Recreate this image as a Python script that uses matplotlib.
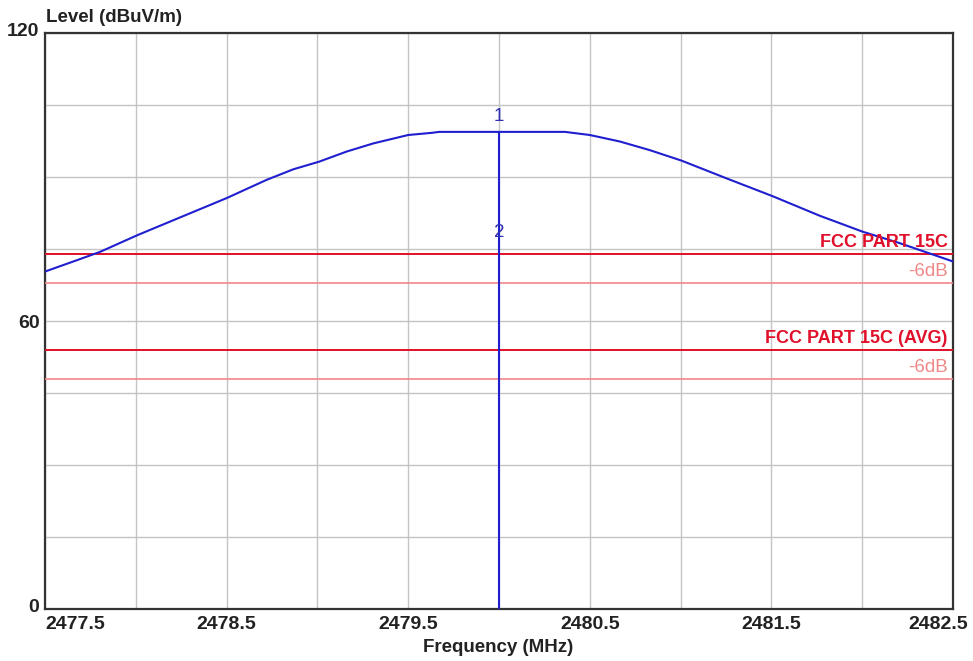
import numpy as np
import matplotlib
matplotlib.use('Agg')
import matplotlib.pyplot as plt
import matplotlib.transforms as mtransforms

#-----------------------------------------------------------------------
# data
freq = [2477.5, 2477.656, 2477.803, 2478.01, 2478.207, 2478.5, 2478.72,
        2478.867, 2479.01, 2479.161, 2479.308, 2479.5, 2479.63, 2479.67,
        2480.0, 2480.363, 2480.5, 2480.665, 2480.83, 2481.006, 2481.254,
        2481.507, 2481.768, 2482.003, 2482.208, 2482.5]
level = [70.3, 72.4, 74.4, 77.9, 81.0, 85.6, 89.4,
         91.6, 93.2, 95.3, 97.0, 98.75, 99.2, 99.4,
         99.4, 99.4, 98.75, 97.4, 95.6, 93.4, 89.7,
         86.0, 81.9, 78.6, 76.2, 72.4]
limitNames = ['FCC PART 15C', 'FCC PART 15C (AVG)']
limitValues = [74, 54]
marginDb = 6
markerFreq = 2480.0
markerPeak = 99.4
markerLabels = ['1', '2']
markerLevels = [102.6, 78.5]
xTicks = [2477.5, 2478.5, 2479.5, 2480.5, 2481.5, 2482.5]
yTicks = [0, 60, 120]

#-----------------------------------------------------------------------
plt.rcParams['font.family'] = ['Liberation Sans', 'DejaVu Sans']
fig = plt.figure(figsize=(9.73, 6.61), dpi=100)
W, H = 973.0, 661.0
ax = fig.add_axes([45 / W, (H - 609) / H, (953 - 45) / W, (609 - 33) / H])

red = '#e0102a'
pink = '#f08888'
blue = '#1f1fd0'

ax.plot(freq, level, color=blue, lw=1.5, zorder=4)
ax.vlines(markerFreq, 0, markerPeak, color=blue, lw=1.5, zorder=4)
for lab, lv in zip(markerLabels, markerLevels):
    ax.text(markerFreq, lv, lab, color='#3030b0', fontsize=13.5,
            ha='center', va='center', zorder=5)

for name, val in zip(limitNames, limitValues):
    ax.axhline(val, color=red, lw=1.4, zorder=3)
    ax.axhline(val - marginDb, color=pink, lw=1.2, zorder=3)
    ax.text(2482.47, val + 0.5, name, color=red, fontsize=13,
            fontweight='bold', ha='right', va='bottom', zorder=5)
    ax.text(2482.47, val - marginDb + 0.5, '-%ddB' % marginDb, color=pink,
            fontsize=13.5, ha='right', va='bottom', zorder=5)

ax.set_xlim(2477.5, 2482.5)
ax.set_ylim(0, 120)
ax.set_xticks(xTicks)
ax.set_xticks(np.arange(2477.5, 2482.51, 0.5), minor=True)
ax.set_yticks(yTicks)
ax.set_yticks(np.arange(0, 121, 15), minor=True)
ax.grid(True, which='both', color='#c4c4c4', lw=1.0, zorder=0)
ax.tick_params(which='both', length=0)
ax.tick_params(axis='x', pad=5, labelsize=14)
ax.tick_params(axis='y', pad=4, labelsize=14)
for lab in ax.get_xticklabels() + ax.get_yticklabels():
    lab.set_fontweight('bold')
    lab.set_color('#222222')

xl = ax.get_xticklabels()
xl[0].set_ha('left')
xl[-1].set_transform(xl[-1].get_transform() +
                     mtransforms.ScaledTranslation(-14.5 / 100, 0, fig.dpi_scale_trans))
yl = ax.get_yticklabels()
yl[-1].set_transform(yl[-1].get_transform() +
                     mtransforms.ScaledTranslation(0, 3 / 100, fig.dpi_scale_trans))
yl[0].set_transform(yl[0].get_transform() +
                    mtransforms.ScaledTranslation(0, 4 / 100, fig.dpi_scale_trans))

for sp in ax.spines.values():
    sp.set_color('#333333')
    sp.set_linewidth(1.6)

fig.text(46 / W, 1 - 18 / H, 'Level (dBuV/m)', fontsize=13.5, fontweight='bold',
         color='#222222', ha='left', va='center')
fig.text(498 / W, 1 - 647 / H, 'Frequency (MHz)', fontsize=13.5, fontweight='bold',
         color='#222222', ha='center', va='center')

fig.savefig('out.png', dpi=100, facecolor='white')
